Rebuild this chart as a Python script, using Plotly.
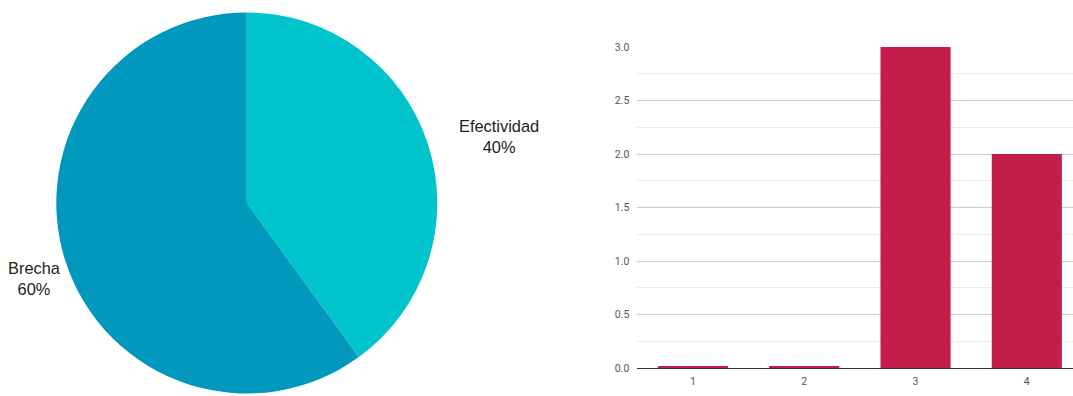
import plotly.graph_objects as go

pie_labels = ["Efectividad", "Brecha"]
pie_values = [40, 60]
pie_colors = ["#00c4cc", "#0098bd"]

bar_categories = ["1", "2", "3", "4"]
bar_values = [0.012, 0.012, 3, 2]
bar_color = "#c41c4d"

W, H = 1073, 396

fig = go.Figure()

fig.add_trace(go.Pie(
    labels=pie_labels, values=pie_values,
    marker=dict(colors=pie_colors, line=dict(width=0)),
    sort=False, direction="clockwise", rotation=0,
    textinfo="none", hoverinfo="label+percent",
    domain=dict(x=[56.3 / W, 437.3 / W], y=[1 - 393.5 / H, 1 - 12.5 / H]),
    showlegend=False,
))

fig.add_trace(go.Bar(
    x=bar_categories, y=bar_values,
    marker=dict(color=bar_color, line=dict(width=0)),
    width=0.63, xaxis="x", yaxis="y", showlegend=False,
))

label_font = dict(family="Liberation Sans, Arial", size=16.4, color="#222222")
fig.add_annotation(x=498.9 / W, y=1 - 136.5 / H, xref="paper", yref="paper",
                   text="Efectividad<br>40%", showarrow=False, font=label_font,
                   xanchor="center", yanchor="middle", align="center")
fig.add_annotation(x=35 / W, y=1 - 278.5 / H, xref="paper", yref="paper",
                   text="Brecha<br>60%", showarrow=False, font=label_font,
                   xanchor="center", yanchor="middle", align="center")

tick_font = dict(family="Roboto, Liberation Sans", size=10.5, color="#555555")

fig.update_layout(
    width=W, height=H,
    margin=dict(l=0, r=0, t=0, b=0, autoexpand=False),
    paper_bgcolor="white", plot_bgcolor="white",
    font=dict(family="Liberation Sans, Arial"),
    xaxis=dict(domain=[637.3 / W, 1], type="category", range=[-0.5, 3.415],
               automargin=False, ticklabelstandoff=3,
               showgrid=False, showline=True, linecolor="#333333", linewidth=1,
               ticks="", tickfont=tick_font, fixedrange=True),
    yaxis=dict(domain=[1 - 368 / H, 1 - 47 / H], range=[0, 3], dtick=0.5,
               automargin=False, ticklabelstandoff=7,
               tickformat=".1f", showgrid=True, gridcolor="#cccccc", gridwidth=1,
               zeroline=False, showline=False, ticks="",
               tickfont=tick_font,
               minor=dict(dtick=0.25, showgrid=True, gridcolor="#ebebeb"),
               fixedrange=True),
)

fig.write_html("out.html")
